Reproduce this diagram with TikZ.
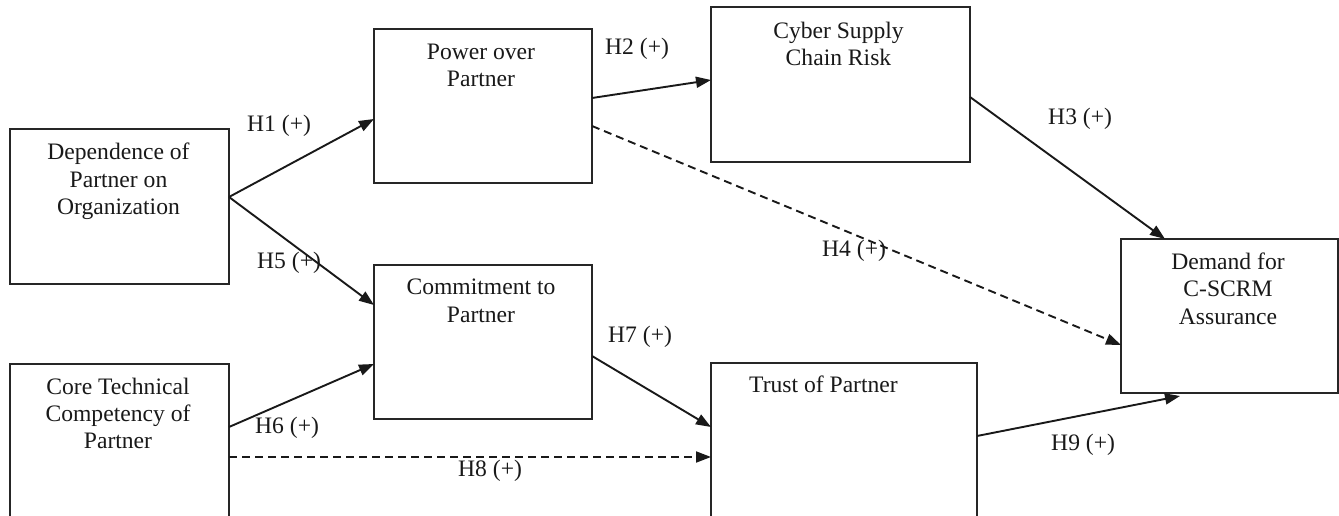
\documentclass[tikz,border=0pt]{standalone}
\usepackage{fontspec}
\setmainfont{Liberation Serif}
\usetikzlibrary{arrows.meta}
\begin{document}
\begin{tikzpicture}[x=1pt,y=-1pt,
  box/.style={draw=black!85, line width=2pt, inner sep=0pt, outer sep=0pt, fill=white},
  boxtext/.style={align=center, inner sep=0pt, text=black!90, font=\fontsize{23.6}{27.4}\selectfont},
  lbl/.style={inner sep=0pt, text=black!90, font=\fontsize{23.6}{27.4}\selectfont},
  arr/.style={line width=1.9pt, draw=black!90, -{Triangle[length=15pt,width=11pt]}},
  darr/.style={arr, dash pattern=on 8pt off 5pt}]
\useasboundingbox (0,0) rectangle (1339,516);
% boxes
\node[box, minimum width=219pt, minimum height=155pt] (dep) at (119.5,206.5) {};
\node[box, minimum width=218pt, minimum height=154pt] (pow) at (483,106) {};
\node[box, minimum width=259pt, minimum height=155pt] (cyb) at (840.5,84.5) {};
\node[box, minimum width=217pt, minimum height=154pt] (dem) at (1229.5,316) {};
\node[box, minimum width=218pt, minimum height=154pt] (com) at (483,342) {};
\node[box, minimum width=219pt, minimum height=160pt] (core) at (119.5,444) {};
\node[box, minimum width=266pt, minimum height=161pt] (tru) at (844,443.5) {};
% box texts
\node[boxtext, anchor=north] (depT) at ([xshift=-1pt,yshift=-14pt]dep.north) {Dependence of\\Partner on\\Organization};
\node[boxtext, anchor=north] (powT) at ([xshift=-2pt,yshift=-14.5pt]pow.north) {Power over\\Partner};
\node[boxtext, anchor=north] (cybT) at ([xshift=-2pt,yshift=-14.5pt]cyb.north) {Cyber Supply\\Chain Risk};
\node[boxtext, anchor=north] (demT) at ([xshift=-1.5pt,yshift=-13.5pt]dem.north) {Demand for\\C-SCRM\\Assurance};
\node[boxtext, anchor=north] (comT) at ([xshift=-2pt,yshift=-14pt]com.north) {Commitment to\\Partner};
\node[boxtext, anchor=north] (coreT) at ([xshift=-1.5pt,yshift=-13.5pt]core.north) {Core Technical\\Competency of\\Partner};
\node[lbl, anchor=base west] (truT) at (749,392) {Trust of Partner};
% connectors
\draw[arr] ([yshift=9.5pt]dep.east) -- ([yshift=-13pt]pow.west);
\draw[arr] ([yshift=9.5pt]dep.east) -- ([yshift=37pt]com.west);
\draw[arr] ([yshift=8pt]pow.east) -- ([yshift=4.5pt]cyb.west);
\draw[darr] ([yshift=-20pt]pow.east) -- ([yshift=-29pt]dem.west);
\draw[arr] ([yshift=-12.5pt]cyb.east) -- ([xshift=-64.5pt]dem.north);
\draw[arr] ([yshift=17pt]core.east) -- ([yshift=-22pt]com.west);
\draw[arr] ([yshift=-14pt]com.east) -- ([yshift=16.5pt]tru.west);
\draw[darr] ([yshift=-13pt]core.east) -- ([yshift=-13.5pt]tru.west);
\draw[arr] ([yshift=7.5pt]tru.east) -- ([xshift=-49.5pt,yshift=-3pt]dem.south);
% labels
\node[lbl, anchor=base west] (h1) at (247,132) {H1 (+)};
\node[lbl, anchor=base west] (h2) at (605,55) {H2 (+)};
\node[lbl, anchor=base west] (h3) at (1048,125) {H3 (+)};
\node[lbl, anchor=base west] (h4) at (822,256) {H4 (+)};
\node[lbl, anchor=base west] (h5) at (257,268) {H5 (+)};
\node[lbl, anchor=base west] (h6) at (255,433) {H6 (+)};
\node[lbl, anchor=base west] (h7) at (608,342) {H7 (+)};
\node[lbl, anchor=base west] (h8) at (458,476) {H8 (+)};
\node[lbl, anchor=base west] (h9) at (1051,450) {H9 (+)};
\end{tikzpicture}
\end{document}
